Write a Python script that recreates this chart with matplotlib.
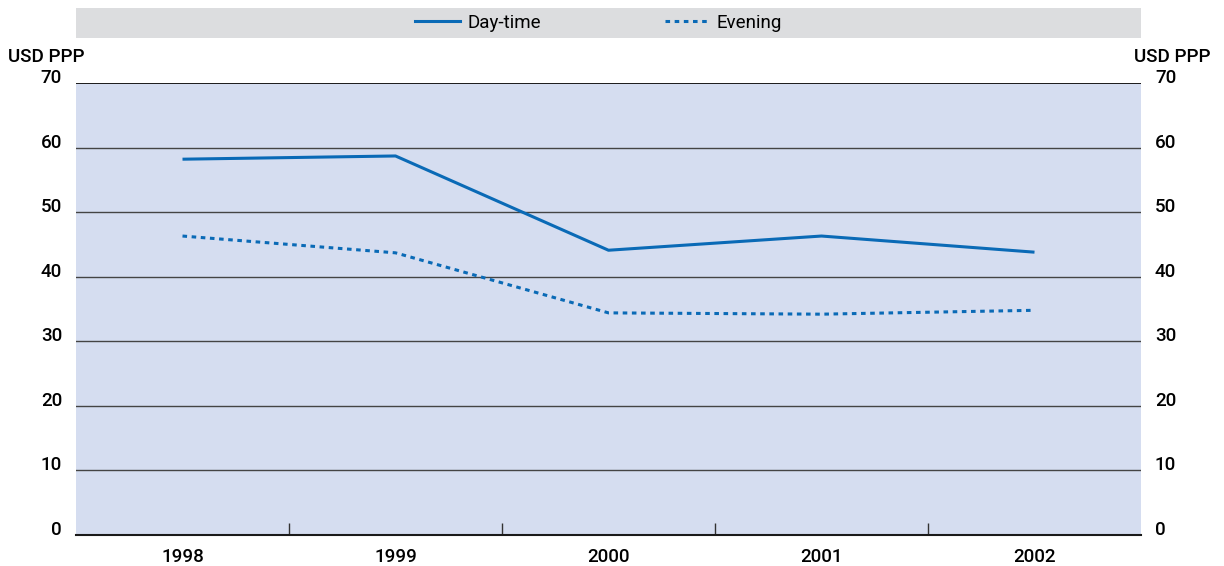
import matplotlib
matplotlib.use("Agg")
import matplotlib.pyplot as plt
from matplotlib.lines import Line2D

plt.rcParams['font.family'] = ['Roboto', 'Liberation Sans', 'DejaVu Sans']
plt.rcParams['font.weight'] = 'medium'

years = ["1998", "1999", "2000", "2001", "2002"]
daytime = [58.2, 58.7, 44.1, 46.3, 43.8]
evening = [46.3, 43.7, 34.4, 34.2, 34.8]
yticks = [0, 10, 20, 30, 40, 50, 60, 70]
unit = "USD PPP"

W, H = 1224, 566
FS = 13.5
fig = plt.figure(figsize=(W/100, H/100), dpi=100)
L, R = 76/W, 1141/W
ax = fig.add_axes([L, 1-535/H, R-L, (535-83)/H])
ax.set_facecolor('#d5ddf0')
x = list(range(len(years)))
blue = '#0a6ab6'
ax.plot(x, daytime, color=blue, lw=2.2, solid_capstyle='butt', zorder=3)
ax.plot(x, evening, color=blue, lw=2.2, ls=(0, (1.5, 1.5)), zorder=3)
ax.set_xlim(-0.5, len(years)-0.5)
ax.set_ylim(0, 70)
for v in yticks[1:]:
    ax.axhline(v, color='#1a1a1a' if v == 70 else '#444444', lw=1.4 if v == 70 else 1.0, zorder=1)
ax.set_yticks(yticks)
ax.set_xticks(x)
ax.set_xticklabels(years)
ax.set_xticks([i+0.5 for i in x[:-1]], minor=True)
ax.tick_params(axis='x', which='major', length=0, pad=9, labelsize=FS)
ax.tick_params(axis='x', which='minor', direction='in', length=9, width=1, color='#333333')
ax.tick_params(axis='y', length=0, labelsize=FS, pad=10, labelright=True, labelleft=True)
for lab in ax.get_yticklabels(which='major'):
    lab.set_verticalalignment('baseline')
for s in ['top', 'left', 'right']:
    ax.spines[s].set_visible(False)
ax.spines['bottom'].set_color('#1a1a1a')
ax.spines['bottom'].set_linewidth(1.5)

fig.text(8/W, 1-57/H, unit, fontsize=FS, ha='left', va='center')
fig.text(1211/W, 1-57/H, unit, fontsize=FS, ha='right', va='center')

# legend band
lax = fig.add_axes([L, 1-38/H, R-L, 30/H])
lax.set_facecolor('#dcdddf')
lax.set_xticks([]); lax.set_yticks([])
for s in lax.spines.values():
    s.set_visible(False)
handles = [Line2D([], [], color=blue, lw=2.2),
           Line2D([], [], color=blue, lw=2.2, ls=(0, (1.5, 1.5)))]
fig.legend(handles, ["Day-time", "Evening"], loc='center',
           bbox_to_anchor=(598.5/W, 1-23/H), ncol=2, frameon=False,
           prop={'size': FS, 'weight': 'normal'},
           handlelength=2.4, columnspacing=6.6, handletextpad=0.4,
           borderaxespad=0, borderpad=0)

fig.savefig("out.png", dpi=100)
